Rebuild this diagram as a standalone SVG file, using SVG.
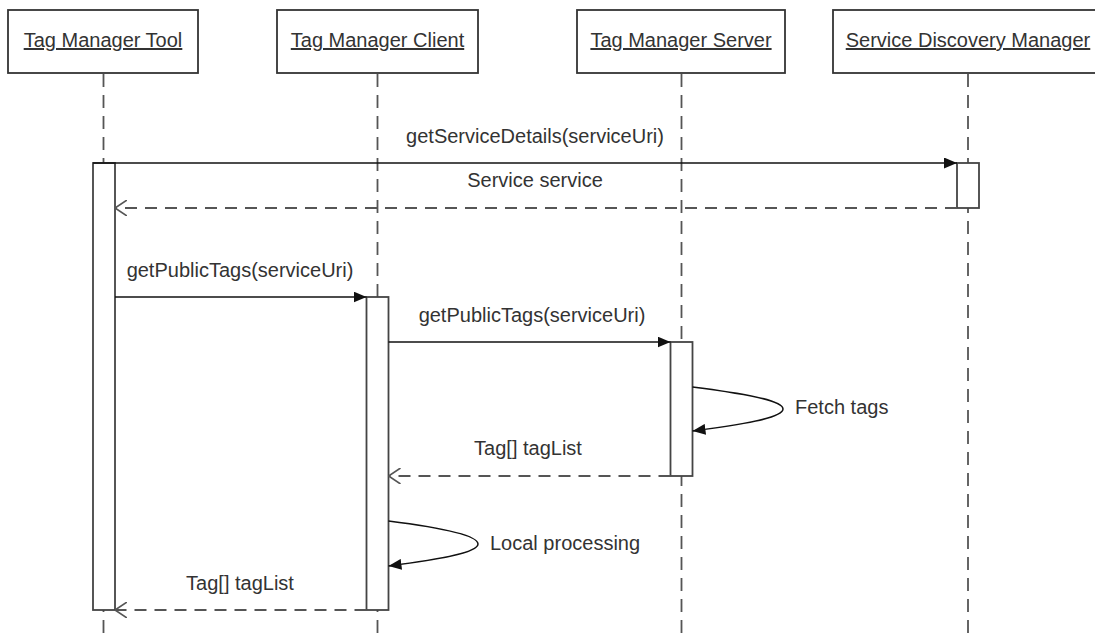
<svg xmlns="http://www.w3.org/2000/svg" width="1095" height="640" viewBox="0 0 1095 640">
  <style>
    .box { fill: #ffffff; stroke: #333333; stroke-width: 1.8; }
    .name { font-family: "Liberation Sans", Arial, sans-serif; font-size: 20px; fill: #333333; text-anchor: middle; text-decoration: underline; }
    .lifeline { stroke: #555555; stroke-width: 1.8; stroke-dasharray: 13 8; fill: none; }
    .act { fill: #ffffff; stroke: #444444; stroke-width: 1.8; }
    .call { stroke: #111111; stroke-width: 1.5; fill: none; }
    .ret { stroke: #555555; stroke-width: 1.8; stroke-dasharray: 12 8; fill: none; }
    .self { stroke: #111111; stroke-width: 1.5; fill: none; }
    .label { font-family: "Liberation Sans", Arial, sans-serif; font-size: 20px; fill: #333333; }
    .mid { text-anchor: middle; }
  </style>
  <defs>
    <marker id="solid" viewBox="0 0 13 11" refX="13" refY="5.5" markerWidth="13" markerHeight="11" markerUnits="userSpaceOnUse" orient="auto">
      <path d="M0,0 L13,5.5 L0,11 Z" fill="#111111"/>
    </marker>
    <marker id="open" viewBox="0 0 12 16" refX="12" refY="8" markerWidth="12" markerHeight="16" markerUnits="userSpaceOnUse" orient="auto">
      <path d="M0,0 L12,8 L0,16" fill="none" stroke="#555555" stroke-width="1.6"/>
    </marker>
  </defs>

  <!-- lifelines -->
  <g id="lifelines">
    <line class="lifeline" x1="103.5" y1="74" x2="103.5" y2="640"/>
    <line class="lifeline" x1="377.5" y1="74" x2="377.5" y2="640"/>
    <line class="lifeline" x1="681.5" y1="74" x2="681.5" y2="640"/>
    <line class="lifeline" x1="968" y1="74" x2="968" y2="640"/>
  </g>

  <!-- participants -->
  <g id="tool">
    <rect class="box" x="8" y="10" width="190" height="63"/>
    <text class="name" x="103" y="47">Tag Manager Tool</text>
  </g>
  <g id="client">
    <rect class="box" x="277" y="10" width="201" height="63"/>
    <text class="name" x="377.5" y="47">Tag Manager Client</text>
  </g>
  <g id="server">
    <rect class="box" x="577" y="10" width="208" height="63"/>
    <text class="name" x="681" y="47">Tag Manager Server</text>
  </g>
  <g id="discovery">
    <rect class="box" x="833" y="10" width="270" height="63"/>
    <text class="name" x="968" y="47">Service Discovery Manager</text>
  </g>

  <!-- activation bars -->
  <g id="activations">
    <rect class="act" x="93" y="163" width="22" height="447"/>
    <rect class="act" x="957" y="163" width="22" height="45"/>
    <rect class="act" x="366.5" y="297" width="22" height="313"/>
    <rect class="act" x="670.5" y="342" width="22" height="134"/>
  </g>

  <!-- messages -->
  <g id="connectors">
    <line class="call" x1="93" y1="163" x2="957" y2="163" marker-end="url(#solid)"/>
    <line class="ret" x1="957" y1="208" x2="115" y2="208" marker-end="url(#open)"/>
    <line class="call" x1="115" y1="297" x2="366.5" y2="297" marker-end="url(#solid)"/>
    <line class="call" x1="388.5" y1="342" x2="670.5" y2="342" marker-end="url(#solid)"/>
    <path class="self" d="M692.5,387 C740,393 783,400 783,409 C783,418 740,425 692.5,431" marker-end="url(#solid)"/>
    <line class="ret" x1="670.5" y1="476" x2="388.5" y2="476" marker-end="url(#open)"/>
    <path class="self" d="M388.5,521 C436,527 478,535 478,544 C478,553 436,560 388.5,566" marker-end="url(#solid)"/>
    <line class="ret" x1="366.5" y1="610" x2="115" y2="610" marker-end="url(#open)"/>
  </g>

  <!-- message labels -->
  <g id="labels">
    <text class="label mid" x="535" y="143">getServiceDetails(serviceUri)</text>
    <text class="label mid" x="535" y="187">Service service</text>
    <text class="label mid" x="240" y="277">getPublicTags(serviceUri)</text>
    <text class="label mid" x="532" y="322">getPublicTags(serviceUri)</text>
    <text class="label" x="795" y="414">Fetch tags</text>
    <text class="label mid" x="528" y="455">Tag[] tagList</text>
    <text class="label" x="490" y="550">Local processing</text>
    <text class="label mid" x="240" y="590">Tag[] tagList</text>
  </g>
</svg>
